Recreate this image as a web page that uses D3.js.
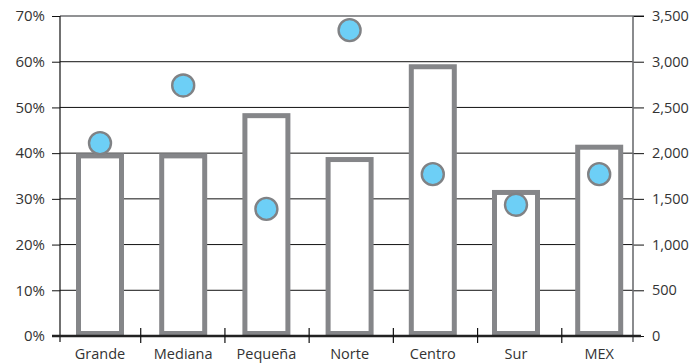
<!DOCTYPE html>
<html>
<head>
<meta charset="utf-8">
<script src="https://cdn.jsdelivr.net/npm/d3@7"></script>
<style>
  html, body { margin: 0; padding: 0; background: #fff; }
  svg text { font-family: "Open Sans", "Noto Sans", sans-serif; fill: #333; }
</style>
</head>
<body>
<svg id="chart" width="697" height="363"></svg>
<script>
// Regions and their values
const categories = ["Grande", "Mediana", "Pequeña", "Norte", "Centro", "Sur", "MEX"];
const barValues = [1970, 1970, 2410, 1930, 2945, 1570, 2065];      // right axis
const dotValues = [42.2, 54.8, 27.8, 66.9, 35.4, 28.7, 35.4];      // left axis, %
const leftTicks = [0, 10, 20, 30, 40, 50, 60, 70];
const rightTicks = [0, 500, 1000, 1500, 2000, 2500, 3000, 3500];

const svg = d3.select("#chart");
const xL = 60, xR = 633, yTop = 16, yBase = 336;

const x = d3.scaleBand().domain(categories).range([58.4, 640.8]);
// separators between categories on the baseline
const xSep = d3.scaleBand().domain(categories).range([56.5, 646]);
const yPct = d3.scaleLinear().domain([0, 70]).range([yBase, yTop]);
const yVal = d3.scaleLinear().domain([0, 3500]).range([yBase, yTop]);

// Gridlines
svg.append("g").selectAll("line")
  .data(leftTicks.filter(d => d > 0 && d < 70))
  .join("line")
  .attr("x1", xL).attr("x2", xR)
  .attr("y1", d => yPct(d)).attr("y2", d => yPct(d))
  .attr("stroke", "#111").attr("stroke-width", 1);

// Top border line
svg.append("line")
  .attr("x1", xL).attr("x2", 644)
  .attr("y1", yPct(70)).attr("y2", yPct(70))
  .attr("stroke", "#6d6e71").attr("stroke-width", 1.6);

// Bars
const barW = 43;
svg.append("g").selectAll("rect")
  .data(categories)
  .join("rect")
  .attr("x", d => x(d) + x.bandwidth() / 2 - barW / 2)
  .attr("width", barW)
  .attr("y", (d, i) => yVal(barValues[i]))
  .attr("height", (d, i) => yVal(0) - 2.5 - yVal(barValues[i]))
  .attr("fill", "#fff")
  .attr("stroke", "#858689")
  .attr("stroke-width", 5);

// Left axis
const leftAxis = d3.axisLeft(yPct).tickValues(leftTicks)
  .tickFormat(d => d + "%").tickSize(8).tickPadding(7);
const gL = svg.append("g").attr("transform", `translate(${xL},0)`).call(leftAxis);
gL.select(".domain").remove();
gL.selectAll(".tick line").attr("stroke", "#111");
gL.selectAll("text").attr("font-size", 15).attr("fill", "#333");
svg.append("line").attr("x1", xL).attr("x2", xL).attr("y1", yTop).attr("y2", 342)
  .attr("stroke", "#111").attr("stroke-width", 1.2);

// Right axis
const rightAxis = d3.axisRight(yVal).tickValues(rightTicks)
  .tickFormat(d3.format(",")).tickSize(11).tickPadding(8);
const gR = svg.append("g").attr("transform", `translate(${xR},0)`).call(rightAxis);
gR.select(".domain").remove();
gR.selectAll(".tick line").attr("stroke", "#111");
gR.selectAll("text").attr("font-size", 14.5).attr("fill", "#333");
svg.append("line").attr("x1", xR).attr("x2", xR).attr("y1", yTop).attr("y2", 342)
  .attr("stroke", "#6d6e71").attr("stroke-width", 1.6);

// Bottom axis
svg.append("line").attr("x1", 52).attr("x2", 641).attr("y1", yBase).attr("y2", yBase)
  .attr("stroke", "#222").attr("stroke-width", 2.6);
const bounds = categories.slice(1).map(c => xSep(c));
svg.append("g").selectAll("line").data(bounds).join("line")
  .attr("x1", d => d).attr("x2", d => d)
  .attr("y1", 328).attr("y2", 343)
  .attr("stroke", "#111").attr("stroke-width", 1.2);
svg.append("g").selectAll("text").data(categories).join("text")
  .attr("x", d => x(d) + x.bandwidth() / 2)
  .attr("y", 359)
  .attr("text-anchor", "middle")
  .attr("font-size", 14.5)
  .text(d => d);

// Dots
svg.append("g").selectAll("circle")
  .data(categories)
  .join("circle")
  .attr("cx", d => x(d) + x.bandwidth() / 2)
  .attr("cy", (d, i) => yPct(dotValues[i]))
  .attr("r", 11)
  .attr("fill", "#6dcff6")
  .attr("stroke", "#808285")
  .attr("stroke-width", 2.4);
</script>
</body>
</html>
